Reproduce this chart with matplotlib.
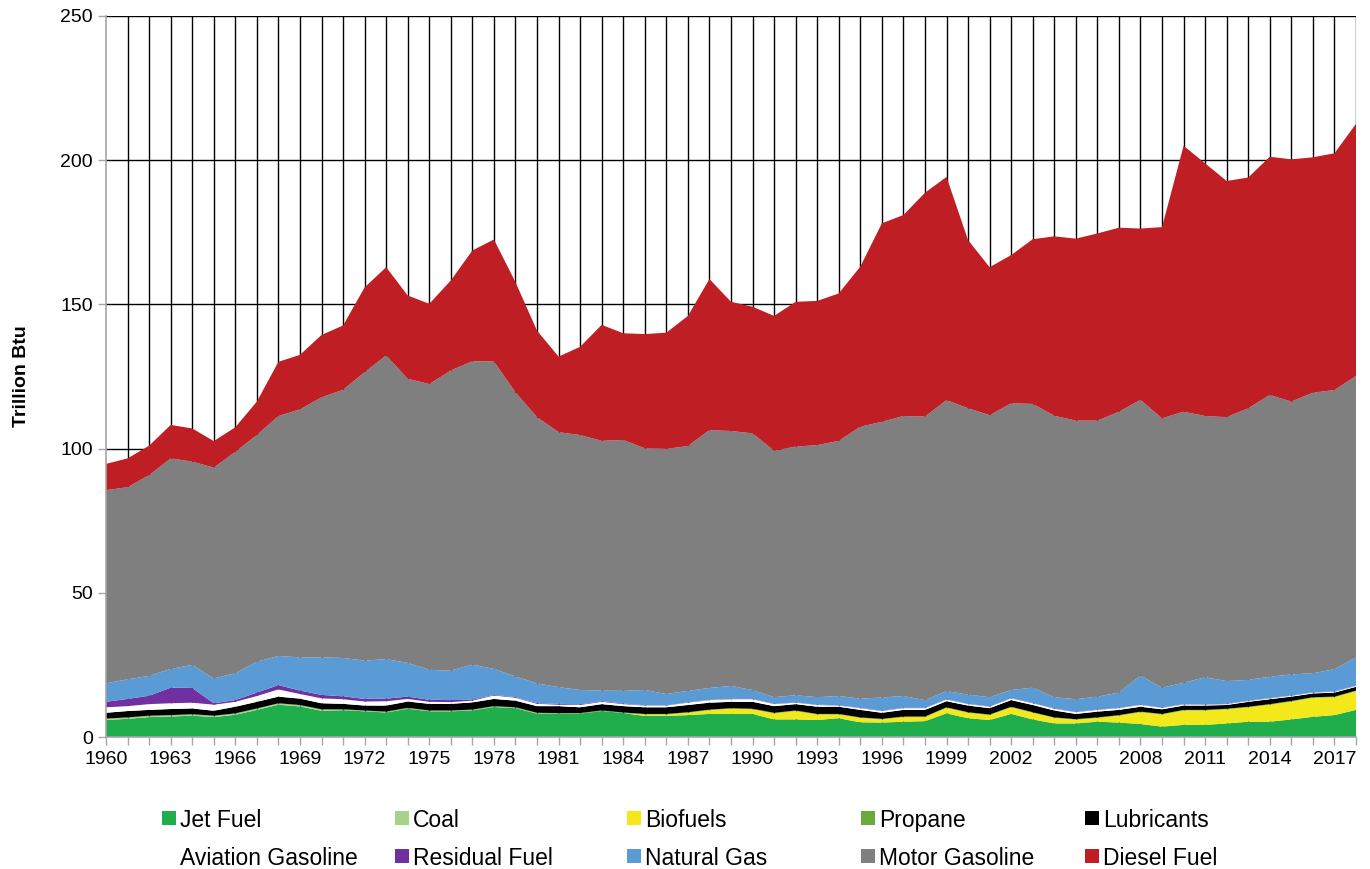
import numpy as np
import matplotlib
matplotlib.use("Agg")
import matplotlib.pyplot as plt
from matplotlib.patches import Rectangle

plt.rcParams['font.family'] = ['Liberation Sans', 'DejaVu Sans']

years = list(range(1960, 2019))

jet_fuel = [5.9, 6.3, 6.9, 7.1, 7.4, 6.9, 7.7, 9.4, 11.2, 10.6,
            9.1, 9.3, 8.9, 8.5, 9.8, 8.9, 8.9, 9.2, 10.4, 10.0,
            8.1, 8.1, 8.1, 9.0, 8.3, 7.3, 7.3, 7.6, 8.0, 8.0,
            8.0, 6.1, 6.1, 5.9, 6.5, 5.1, 5.0, 5.3, 5.5, 8.2,
            6.5, 5.9, 8.0, 6.1, 4.7, 4.7, 5.3, 5.0, 4.5, 3.6,
            4.2, 4.2, 4.7, 5.3, 5.3, 6.1, 7.0, 7.6, 9.4]
coal = [0.3] * 11 + [0.1] * 10 + [0.0] * 38
biofuels = [0.0] * 25 + [0.5, 0.5, 0.8, 1.3, 1.8,
                         1.6, 2.1, 2.9, 1.9, 1.3, 1.5, 1.1, 1.6, 1.4, 1.9,
                         1.9, 1.7, 2.3, 2.3, 1.9, 1.3, 1.3, 2.4, 4.1, 4.2,
                         5.0, 5.0, 4.9, 5.0, 5.9, 6.2, 6.6, 6.2, 6.5]
propane = [0.2] * 59
lubricants = [2.0, 2.2, 2.0, 2.1, 2.0, 1.7, 2.3, 2.3, 2.3, 2.2,
              2.1, 1.9, 1.7, 2.1, 2.2, 2.3, 2.3, 2.5, 2.5, 2.3,
              2.3, 2.4, 2.0, 2.2, 2.2, 2.3, 2.3, 2.5, 2.4, 2.2,
              2.4, 2.3, 2.2, 2.5, 2.5, 2.6, 2.1, 2.3, 2.3, 2.1,
              2.3, 2.2, 2.3, 2.5, 2.4, 1.8, 2.0, 1.8, 1.7, 1.6,
              1.5, 1.5, 1.3, 1.7, 1.7, 1.5, 1.3, 1.4, 1.3]
aviation_gasoline = [1.9, 1.7, 2.0, 2.0, 2.0, 2.1, 1.7, 2.0, 2.5, 1.6,
                     1.7, 1.6, 1.4, 1.5, 0.9, 0.7, 0.6, 0.6, 1.2, 1.0,
                     0.8, 0.5, 0.8, 0.8, 0.7, 0.6, 0.6, 0.8, 0.9, 0.9,
                     0.9, 0.7, 0.5, 0.6, 0.4, 0.6, 0.6, 0.6, 0.6, 0.6,
                     0.5, 0.5, 0.6, 0.6, 0.6, 0.6, 0.6, 0.6, 0.6, 0.5,
                     0.4, 0.3, 0.3, 0.3, 0.3, 0.3, 0.3, 0.3, 0.3]
residual_fuel = [1.9, 2.5, 2.9, 5.4, 5.1, 0.5, 0.6, 1.2, 1.5, 1.2,
                 1.2, 1.0, 0.9, 0.9, 0.8, 0.7, 0.7, 0.3, 0.2, 0.2,
                 0.2, 0.3, 0.2, 0.2, 0.2] + [0.1] * 34
natural_gas = [6.4, 6.8, 6.9, 6.5, 8.0, 8.6, 9.3, 10.7, 10.1, 11.5,
               13.0, 13.3, 13.3, 13.7, 11.7, 10.4, 10.2, 12.2, 9.0, 7.2,
               6.9, 5.8, 5.0, 3.7, 4.4, 5.3, 3.9, 4.0, 4.1, 4.5,
               3.1, 2.3, 2.5, 2.6, 3.2, 3.2, 4.6, 4.1, 2.7, 2.8,
               3.2, 3.2, 2.8, 5.3, 3.9, 4.4, 4.5, 5.3, 10.1, 6.9,
               7.4, 9.4, 7.9, 7.2, 7.4, 7.3, 6.6, 7.7, 9.8]
motor_gasoline = [67.0, 66.6, 69.6, 73.0, 70.5, 73.1, 76.8, 78.6, 83.2, 86.0,
                  90.2, 93.0, 100.0, 105.3, 98.5, 99.1, 104.1, 105.2, 106.6, 98.5,
                  92.3, 88.4, 88.4, 86.6, 87.0, 83.8, 85.0, 84.9, 89.4, 88.4,
                  89.0, 85.5, 86.2, 87.4, 88.5, 94.3, 95.6, 97.1, 98.3, 100.9,
                  99.3, 97.8, 99.4, 98.4, 97.6, 96.6, 95.7, 97.4, 95.6, 93.4,
                  94.0, 90.6, 91.5, 94.2, 97.7, 94.6, 97.3, 96.8, 97.6]
diesel_fuel = [9.1, 10.0, 10.2, 11.6, 11.5, 9.2, 8.5, 11.6, 18.8, 18.9,
               21.6, 22.3, 29.4, 30.6, 28.9, 27.8, 31.2, 38.4, 42.3, 38.2,
               30.0, 26.2, 30.6, 40.2, 37.0, 39.6, 40.3, 45.1, 52.4, 44.8,
               43.9, 46.7, 50.2, 50.0, 51.1, 55.5, 68.8, 69.7, 77.6, 77.4,
               58.3, 51.3, 51.4, 57.1, 62.2, 63.1, 64.9, 63.8, 59.4, 66.3,
               92.2, 87.6, 81.9, 80.0, 82.6, 84.0, 81.6, 82.1, 87.4]

labels = ['Jet Fuel', 'Coal', 'Biofuels', 'Propane', 'Lubricants',
          'Aviation Gasoline', 'Residual Fuel', 'Natural Gas',
          'Motor Gasoline', 'Diesel Fuel']
colors = ['#1fae4b', '#a9d18e', '#f2e81a', '#6aab3c', '#000000',
          '#ffffff', '#7030a0', '#5b9bd5', '#7f7f7f', '#be1e24']
series = [jet_fuel, coal, biofuels, propane, lubricants, aviation_gasoline,
          residual_fuel, natural_gas, motor_gasoline, diesel_fuel]

W, H = 1370, 869
fig = plt.figure(figsize=(W / 100, H / 100), dpi=100)
ax = fig.add_axes([106 / W, 1 - 737 / H, 1250 / W, 721 / H])

ax.stackplot(years, *series, colors=colors, linewidth=0, zorder=3)

# gridlines: horizontal every 50, vertical every year
ax.set_ylim(0, 250)
ax.set_xlim(1960, 2018)
ax.set_yticks(np.arange(0, 251, 50))
for y in range(50, 251, 50):
    ax.axhline(y, color='black', lw=1.0, zorder=1)
for yr in years[1:]:
    ax.axvline(yr, color='black', lw=1.0, zorder=1)

ax.set_xticks(years)
ax.set_xticklabels([str(y) if (y - 1960) % 3 == 0 else '' for y in years])
ax.tick_params(axis='both', labelsize=14, color='#a6a6a6', length=6, width=1, direction='out')
ax.tick_params(axis='x', pad=4)

for s in ['top', 'right']:
    ax.spines[s].set_visible(False)
for s in ['left', 'bottom']:
    ax.spines[s].set_color('#a6a6a6')
    ax.spines[s].set_linewidth(1.2)
    ax.spines[s].set_zorder(4)

ax.set_ylabel('Trillion Btu', fontsize=14, fontweight='bold', labelpad=22)

# legend: two rows of five, equal column pitch like the original
col_x = [162, 395, 627, 861, 1085]
row_y = [818, 856]
for k in range(10):
    r, c = divmod(k, 5)
    x0, y0 = col_x[c], row_y[r]
    fig.patches.append(Rectangle((x0 / W, 1 - (y0 + 7) / H), 14 / W, 14 / H,
                                 transform=fig.transFigure, facecolor=colors[k],
                                 edgecolor='none'))
    fig.text((x0 + 18) / W, 1 - y0 / H, labels[k], fontsize=16.5,
             va='center_baseline', ha='left')

fig.savefig('out.png', dpi=100)
